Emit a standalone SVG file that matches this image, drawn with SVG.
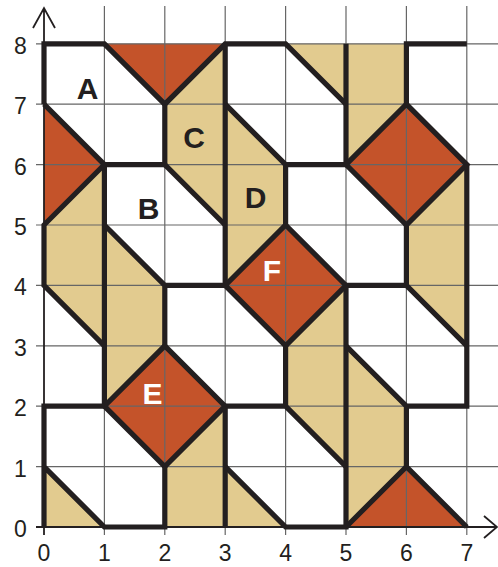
<svg xmlns="http://www.w3.org/2000/svg" width="498" height="567" viewBox="0 0 498 567">
<style>
.o{fill:#C4532A}
.t{fill:#E2CB8F}
.g{stroke:#666;stroke-width:1.2;fill:none}
.ax{stroke:#231F20;stroke-width:1.8;fill:none}
.k{stroke:#231F20;stroke-width:5.2;fill:none;stroke-linejoin:miter;stroke-linecap:butt}
.n{font-family:"Liberation Sans",Arial,sans-serif;font-size:23px;fill:#231F20;text-anchor:middle}
.l{font-family:"Liberation Sans",Arial,sans-serif;font-size:30px;font-weight:bold;text-anchor:middle}
</style>
<rect width="498" height="567" fill="#fff"/>
<g id="fills">
<polygon class="o" points="104.4,43.8 225.2,43.8 164.8,104.2"/>
<polygon class="o" points="44,104.2 104.4,164.6 44,225"/>
<polygon class="o" points="406.4,104.2 466.8,164.6 406.4,225 346,164.6"/>
<polygon class="o" points="285.6,225 346,285.4 285.6,345.8 225.2,285.4"/>
<polygon class="o" points="164.8,345.8 225.2,406.2 164.8,466.6 104.4,406.2"/>
<polygon class="o" points="346,527 406.4,466.6 466.8,527"/>
<polygon class="t" points="164.8,104.2 225.2,43.8 225.2,225 164.8,164.6"/>
<polygon class="t" points="225.2,104.2 285.6,164.6 285.6,225 225.2,285.4"/>
<polygon class="t" points="285.6,43.8 346,43.8 346,104.2"/>
<polygon class="t" points="346,43.8 406.4,43.8 406.4,104.2 346,164.6"/>
<polygon class="t" points="406.4,225 466.8,164.6 466.8,345.8 406.4,285.4"/>
<polygon class="t" points="44,225 104.4,164.6 104.4,345.8 44,285.4"/>
<polygon class="t" points="104.4,225 164.8,285.4 164.8,345.8 104.4,406.2"/>
<polygon class="t" points="285.6,345.8 346,285.4 346,466.6 285.6,406.2"/>
<polygon class="t" points="346,345.8 406.4,406.2 406.4,466.6 346,527"/>
<polygon class="t" points="164.8,466.6 225.2,406.2 225.2,527 164.8,527"/>
<polygon class="t" points="225.2,466.6 285.6,527 225.2,527"/>
<polygon class="t" points="44,466.6 104.4,527 44,527"/>
</g>
<g id="grid" class="g">
<path d="M104.4,6V535M164.8,6V535M225.2,6V535M285.6,6V535M346,6V535M406.4,6V535M466.8,6V535"/>
<path d="M36,43.8H498M36,104.2H498M36,164.6H498M36,225H498M36,285.4H498M36,345.8H498M36,406.2H498M36,466.6H498"/>
</g>
<g id="axes" class="ax">
<path d="M44,535V8M33,28L44,8L55,28"/>
<path d="M36,527H497M484,516L497,527L484,538"/>
</g>
<g id="connectors" class="k">
<path d="M44,104.2V43.8H104.4L164.8,104.2L225.2,43.8H285.6L346,104.2"/>
<path d="M104.4,406.2V164.6H164.8V104.2"/>
<path d="M164.8,164.6L225.2,225"/>
<path d="M225.2,43.8V285.4"/>
<path d="M225.2,104.2L285.6,164.6H346M285.6,164.6V225"/>
<path d="M346,43.8V164.6"/>
<path d="M406.4,104.2V43.8H466.8"/>
<path d="M406.4,104.2L466.8,164.6L406.4,225L346,164.6Z"/>
<path d="M44,104.2L104.4,164.6L44,225V285.4L104.4,345.8"/>
<path d="M104.4,225L164.8,285.4H225.2M164.8,285.4V345.8"/>
<path d="M285.6,225L346,285.4L285.6,345.8L225.2,285.4Z"/>
<path d="M346,285.4H406.4V225M406.4,285.4L466.8,345.8"/>
<path d="M346,345.8L406.4,406.2H466.8V164.6M406.4,406.2V466.6"/>
<path d="M346,285.4V527H285.6L225.2,466.6"/>
<path d="M346,527L406.4,466.6L466.8,527"/>
<path d="M285.6,345.8V406.2L346,466.6M225.2,406.2H285.6"/>
<path d="M164.8,345.8L225.2,406.2L164.8,466.6L104.4,406.2Z"/>
<path d="M104.4,406.2H44V527M44,466.6L104.4,527H164.8V466.6"/>
<path d="M225.2,406.2V527"/>
</g>
<g id="ticks">
<text class="n" x="20.5" y="53.8">8</text>
<text class="n" x="20.5" y="114.2">7</text>
<text class="n" x="20.5" y="174.6">6</text>
<text class="n" x="20.5" y="235">5</text>
<text class="n" x="20.5" y="295.4">4</text>
<text class="n" x="20.5" y="355.8">3</text>
<text class="n" x="20.5" y="416.2">2</text>
<text class="n" x="20.5" y="476.6">1</text>
<text class="n" x="20.5" y="537">0</text>
<text class="n" x="44" y="561">0</text>
<text class="n" x="104.4" y="561">1</text>
<text class="n" x="164.8" y="561">2</text>
<text class="n" x="225.2" y="561">3</text>
<text class="n" x="285.6" y="561">4</text>
<text class="n" x="346" y="561">5</text>
<text class="n" x="406.4" y="561">6</text>
<text class="n" x="466.8" y="561">7</text>
</g>
<g id="labels">
<g id="A"><text class="l" x="87.5" y="98.5" fill="#231F20">A</text></g>
<g id="B"><text class="l" x="148.5" y="218.5" fill="#231F20">B</text></g>
<g id="C"><text class="l" x="194" y="147.5" fill="#231F20">C</text></g>
<g id="D"><text class="l" x="255.5" y="207.5" fill="#231F20">D</text></g>
<g id="E"><text class="l" x="152.5" y="403.5" fill="#fff">E</text></g>
<g id="F"><text class="l" x="272" y="280.5" fill="#fff">F</text></g>
</g>
</svg>
